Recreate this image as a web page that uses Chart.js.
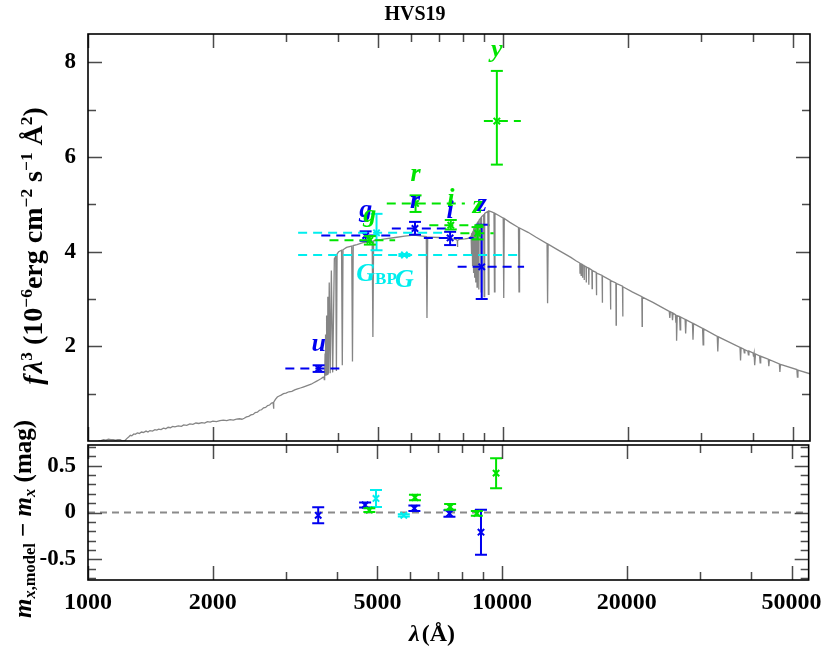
<!DOCTYPE html>
<html>
<head>
<meta charset="utf-8">
<script src="https://cdn.jsdelivr.net/npm/chart.js@4.4.1/dist/chart.umd.min.js"></script>
<style>
html,body{margin:0;padding:0;background:#fff;}
body{width:830px;height:649px;position:relative;overflow:hidden;font-family:"Liberation Serif","Times New Roman",serif;}
canvas{position:absolute;left:0;}
#top{top:0;}
#bot{top:437px;}
.t{position:absolute;font-weight:bold;white-space:nowrap;color:#000;line-height:1;transform:translate(-50%,-50%);}
.rot{transform:translate(-50%,-50%) rotate(-90deg);}
.t sup{font-size:0.62em;vertical-align:0.6em;line-height:0;}
.t sub{font-size:0.66em;vertical-align:-0.3em;line-height:0;}
</style>
</head>
<body>
<canvas id="top" width="830" height="449"></canvas>
<canvas id="bot" width="830" height="212"></canvas>
<div class="t" style="left:415px;top:13px;font-size:20px;">HVS19</div>
<div class="t rot" style="left:33px;top:246px;font-size:28px;"><i>f</i>&#8202;<i>λ</i><sup>3</sup>&nbsp;(10<sup>−6</sup>erg&nbsp;cm<sup>−2</sup>&nbsp;s<sup>−1</sup>&nbsp;Å<sup>2</sup>)</div>
<div class="t rot" style="left:22px;top:519px;font-size:25px;"><i>m</i><sub><i>x</i>,model</sub>&nbsp;−&nbsp;<i>m</i><sub><i>x</i></sub>&nbsp;(mag)</div>
<div class="t" style="left:432px;top:633px;font-size:24px;"><i>λ</i>&#8202;(Å)</div>
<script>
// ---------------- data ----------------
const xMin = 1000, xMax = 55000;
const fluxMin = 0, fluxMax = 8.6;
const residMin = -0.72, residMax = 0.72;
const xTickLabels = [1000, 2000, 5000, 10000, 20000, 50000];
const xMinorTicks = [3000, 4000, 6000, 7000, 8000, 9000, 30000, 40000];
const fluxTickLabels = [2, 4, 6, 8];
const fluxMinorTicks = [1, 3, 5, 7];
const residTickLabels = [-0.5, 0, 0.5];
const residMinorTicks = [-0.7, -0.6, -0.4, -0.3, -0.2, -0.1, 0.1, 0.2, 0.3, 0.4, 0.6, 0.7];

// SDSS (blue)
const sdssBands = ['u', 'g', 'r', 'i', 'z'];
const sdssWave = [3597, 4669, 6140, 7462, 8893];
const sdssFlux = [1.53, 4.34, 4.49, 4.29, 3.68];
const sdssErrLo = [0.07, 0.11, 0.13, 0.15, 0.68];
const sdssErrHi = [0.07, 0.09, 0.14, 0.13, 0.89];
const sdssWaveLo = [2990, 3650, 5400, 6450, 7780];
const sdssWaveHi = [4100, 5420, 7300, 8500, 11250];
const sdssResid = [-0.03, 0.08, 0.045, -0.01, -0.21];
const sdssResidErr = [0.085, 0.027, 0.03, 0.035, 0.24];

// Pan-STARRS (green)
const ps1Bands = ['g', 'r', 'i', 'z', 'y'];
const ps1Wave = [4780, 6160, 7490, 8690, 9672];
const ps1Flux = [4.24, 5.02, 4.56, 4.39, 6.76];
const ps1ErrLo = [0.09, 0.18, 0.09, 0.13, 0.92];
const ps1ErrHi = [0.09, 0.17, 0.11, 0.13, 1.06];
const ps1WaveLo = [3820, 5250, 6650, 7900, 9000];
const ps1WaveHi = [5500, 8100, 9300, 9500, 11050];
const ps1Resid = [0.025, 0.16, 0.06, -0.01, 0.42];
const ps1ResidErr = [0.02, 0.03, 0.03, 0.025, 0.16];

// Gaia (cyan)
const gaiaBands = ['G_BP', 'G'];
const gaiaWave = [4960, 5790];
const gaiaFlux = [4.40, 3.93];
const gaiaErrLo = [0.37, 0.02];
const gaiaErrHi = [0.40, 0.02];
const gaiaWaveLo = [3210, 3210];
const gaiaWaveHi = [7200, 10900];
const gaiaResid = [0.15, -0.03];
const gaiaResidErr = [0.09, 0.012];

// model spectrum (wavelength in Angstrom, f*lambda^3)
const specWave = [1060,1075,1090,1105,1120,1135,1150,1165,1180,1195,1205,1215,1228,1240,1255,1265,1275,1290,1300,1315,1330,1345,1360,1380,1395,1410,1430,1450,1465,1480,1500,1520,1540,1560,1580,1600,1620,1650,1680,1700,1730,1760,1790,1820,1850,1880,1910,1940,1970,2000,2040,2080,2120,2160,2200,2240,2280,2320,2350,2380,2410,2440,2470,2500,2530,2560,2590,2620,2650,2680,2710,2740,2770,2795,2800,2806,2830,2860,2890,2920,2960,3000,3050,3100,3150,3200,3250,3300,3350,3400,3450,3500,3550,3600,3650,3690,3705,3712,3717,3722,3728,3734,3742,3750,3760,3771,3785,3798,3815,3835,3860,3889,3925,3955,3970,3985,4020,4085,4102,4118,4200,4322,4340,4358,4450,4600,4750,4842,4861,4880,4950,5200,5500,5800,6100,6400,6537,6563,6589,6700,7000,7400,7700,7765,7774,7783,7850,8100,8250,8340,8385,8392,8400,8408,8413,8420,8432,8438,8445,8460,8467,8475,8494,8502,8511,8535,8545,8556,8586,8598,8610,8650,8665,8680,8732,8750,8768,8840,8863,8885,8990,9015,9040,9200,9229,9258,9400,9520,9546,9572,9800,10020,10049,10078,10400,10906,10938,10970,11500,12000,12780,12818,12856,13500,14000,14584,15000,15330,15346,15362,15428,15443,15458,15545,15561,15577,15690,15705,15720,15868,15885,15902,16095,16114,16133,16390,16411,16432,16790,16811,16832,17345,17367,17389,18155,18179,18203,18725,18751,18777,19425,19451,19477,20500,21630,21661,21692,23000,24000,25185,25261,25337,25566,25643,25720,26060,26127,26190,26200,26259,26320,26670,26751,26830,27500,27583,27666,28644,28730,28816,30300,30392,30484,32871,32970,33069,37294,37406,37518,38081,38196,38311,38957,39074,39191,40087,40208,40329,40400,40522,40644,41583,41708,41833,43635,43766,43897,46398,46538,46678,51132,51286,51440,55000];
const specFlux = [0.00,0.01,0.03,0.02,0.04,0.03,0.03,0.02,0.03,0.03,0.01,0.00,0.01,0.05,0.09,0.12,0.11,0.15,0.14,0.17,0.16,0.19,0.18,0.21,0.19,0.22,0.21,0.24,0.23,0.25,0.24,0.27,0.26,0.29,0.28,0.31,0.30,0.32,0.31,0.34,0.33,0.36,0.35,0.38,0.37,0.39,0.38,0.41,0.40,0.42,0.41,0.43,0.44,0.43,0.45,0.44,0.46,0.47,0.46,0.48,0.51,0.52,0.55,0.56,0.60,0.61,0.65,0.66,0.70,0.71,0.75,0.76,0.80,0.81,0.68,0.82,0.88,0.93,0.95,0.97,1.00,1.01,1.04,1.05,1.08,1.10,1.12,1.14,1.16,1.18,1.20,1.23,1.26,1.29,1.32,1.35,1.34,1.30,1.55,1.36,1.85,1.38,2.25,1.40,2.65,1.41,3.05,1.42,3.35,1.43,3.60,1.45,3.85,3.90,1.48,3.95,4.00,4.03,1.60,4.04,4.09,4.12,1.68,4.13,4.15,4.19,4.21,4.22,2.20,4.23,4.24,4.27,4.30,4.33,4.35,4.33,4.32,2.60,4.31,4.31,4.30,4.28,4.26,4.24,4.10,4.24,4.26,4.27,4.28,4.31,4.33,4.05,4.35,4.36,3.95,4.38,4.39,3.85,4.40,4.42,3.70,4.44,4.46,3.55,4.48,4.50,3.45,4.52,4.54,3.35,4.56,4.58,3.25,4.61,4.64,3.20,4.67,4.71,3.15,4.74,4.78,3.05,4.81,4.85,3.10,4.86,4.84,4.82,3.15,4.81,4.76,4.71,3.02,4.70,4.62,4.51,3.15,4.50,4.41,4.31,4.17,2.91,4.16,4.05,3.97,3.88,3.81,3.76,3.55,3.76,3.74,3.50,3.74,3.73,3.45,3.72,3.71,3.40,3.70,3.68,3.35,3.68,3.65,3.30,3.65,3.61,3.22,3.60,3.56,3.08,3.55,3.50,2.92,3.49,3.40,2.78,3.39,3.34,2.45,3.33,3.27,2.63,3.26,3.15,3.05,2.42,3.04,2.93,2.84,2.74,2.60,2.73,2.71,2.55,2.70,2.67,2.50,2.66,2.66,2.12,2.65,2.63,2.35,2.62,2.57,2.27,2.56,2.49,2.14,2.48,2.38,2.03,2.37,2.21,1.89,2.20,1.98,1.70,1.97,1.94,1.86,1.93,1.90,1.82,1.90,1.86,1.78,1.85,1.85,1.60,1.84,1.80,1.65,1.79,1.73,1.58,1.72,1.63,1.46,1.62,1.51,1.35,1.50,1.42];

// ---------------- styles ----------------
const styles = {
  sdss: { color: '#0000f0', labelBelow: false },
  ps1:  { color: '#00e400', labelBelow: false },
  gaia: { color: '#00eeee', labelBelow: true }
};
const serif = '"Liberation Serif", "Times New Roman", serif';
const fontTick = { family: serif, weight: 'bold', size: 23 };
const fontTickX = { family: serif, weight: 'bold', size: 24 };
const labelFont = 'italic bold 26px ' + serif;
const subFont = 'bold 17px ' + serif;

const photGroups = [
  { bands: sdssBands, wave: sdssWave, flux: sdssFlux, errLo: sdssErrLo, errHi: sdssErrHi, lo: sdssWaveLo, hi: sdssWaveHi, resid: sdssResid, residErr: sdssResidErr, style: styles.sdss },
  { bands: ps1Bands, wave: ps1Wave, flux: ps1Flux, errLo: ps1ErrLo, errHi: ps1ErrHi, lo: ps1WaveLo, hi: ps1WaveHi, resid: ps1Resid, residErr: ps1ResidErr, style: styles.ps1 },
  { bands: gaiaBands, wave: gaiaWave, flux: gaiaFlux, errLo: gaiaErrLo, errHi: gaiaErrHi, lo: gaiaWaveLo, hi: gaiaWaveHi, resid: gaiaResid, residErr: gaiaResidErr, style: styles.gaia }
];

function photDatasets(g, vals, eLo, eHi, withBars) {
  const ds = [];
  g.wave.forEach((w, i) => {
    if (withBars) {
      ds.push({ data: [{ x: g.lo[i], y: vals[i] }, { x: g.hi[i], y: vals[i] }], showLine: true,
        borderColor: g.style.color, borderWidth: 2, borderDash: [9, 6], pointRadius: 0, order: 0 });
    }
    ds.push({ data: [{ x: w, y: vals[i] - eLo[i] }, { x: w, y: vals[i] + eHi[i] }], showLine: true,
      borderColor: g.style.color, borderWidth: 2, pointStyle: 'line', pointRadius: 6,
      pointBorderWidth: 2, pointBorderColor: g.style.color, pointBackgroundColor: g.style.color, order: 0 });
  });
  ds.push({ data: g.wave.map((w, i) => ({ x: w, y: vals[i] })), showLine: false, pointStyle: 'crossRot',
    pointRadius: 4.5, pointBorderWidth: 2, pointBorderColor: g.style.color, borderColor: g.style.color, order: 0 });
  return ds;
}

// draw order: first dataset on top
const drawOrder = [photGroups[1], photGroups[2], photGroups[0]];
const topDatasets = [];
const botDatasets = [];
drawOrder.forEach(g => {
  topDatasets.push(...photDatasets(g, g.flux, g.errLo, g.errHi, true));
  botDatasets.push(...photDatasets(g, g.resid, g.residErr, g.residErr, false));
});
topDatasets.push({ data: specWave.map((w, i) => ({ x: w, y: specFlux[i] })), showLine: true,
  borderColor: '#858585', borderWidth: 1.3, pointRadius: 0, order: 1 });
botDatasets.push({ data: [{ x: xMin, y: 0 }, { x: xMax, y: 0 }], showLine: true,
  borderColor: '#8a8a8a', borderWidth: 2, borderDash: [7, 5], pointRadius: 0, order: 1 });

// ---------------- plugins ----------------
const frame = {
  id: 'frame',
  afterDatasetsDraw(chart, args, o) {
    const { ctx, chartArea: a } = chart;
    const xs = chart.scales.x, ys = chart.scales.y;
    ctx.save();
    ctx.strokeStyle = '#4a4a4a';
    ctx.lineWidth = 1.5;
    ctx.beginPath();
    const xt = (vals, len) => vals.forEach(v => {
      const p = Math.round(xs.getPixelForValue(v)) + 0.5;
      ctx.moveTo(p, a.top); ctx.lineTo(p, a.top + len);
      ctx.moveTo(p, a.bottom); ctx.lineTo(p, a.bottom - len);
    });
    const yt = (vals, len) => vals.forEach(v => {
      const p = Math.round(ys.getPixelForValue(v)) + 0.5;
      ctx.moveTo(a.left, p); ctx.lineTo(a.left + len, p);
      ctx.moveTo(a.right, p); ctx.lineTo(a.right - len, p);
    });
    xt(xTickLabels, 14); xt(xMinorTicks, 8);
    yt(o.yMajor, 14); yt(o.yMinor, 8);
    ctx.stroke();
    ctx.strokeStyle = '#000';
    ctx.lineWidth = 1.6;
    ctx.strokeRect(a.left, a.top, a.right - a.left, a.bottom - a.top);
    ctx.restore();
  }
};

const bandLabels = {
  id: 'bandLabels',
  afterDatasetsDraw(chart) {
    const { ctx } = chart;
    const xs = chart.scales.x, ys = chart.scales.y;
    ctx.save();
    ctx.textAlign = 'left';
    ctx.textBaseline = 'alphabetic';
    photGroups.forEach(g => {
      g.bands.forEach((b, i) => {
        const parts = b.split('_');
        const main = parts[0], sub = parts[1] || '';
        const px = xs.getPixelForValue(g.wave[i]);
        const py = g.style.labelBelow
          ? ys.getPixelForValue(g.flux[i] - g.errLo[i]) + 31
          : ys.getPixelForValue(g.flux[i] + g.errHi[i]) - 14;
        ctx.font = labelFont;
        const w1 = ctx.measureText(main).width;
        let w2 = 0;
        if (sub) { ctx.font = subFont; w2 = ctx.measureText(sub).width; }
        const left = px - (w1 + w2) / 2;
        ctx.fillStyle = g.style.color;
        ctx.font = labelFont;
        ctx.fillText(main, left, py);
        if (sub) { ctx.font = subFont; ctx.fillText(sub, left + w1, py + 3); }
      });
    });
    ctx.restore();
  }
};

// ---------------- charts ----------------
const common = { responsive: false, animation: false, events: [] };
const fitY = s => { s.width = 88; s.paddingTop = 0; s.paddingBottom = 0; };

new Chart(document.getElementById('top'), {
  type: 'scatter',
  data: { datasets: topDatasets },
  options: Object.assign({}, common, {
    layout: { padding: { left: 0, right: 20, top: 34, bottom: 6 } },
    plugins: { legend: { display: false }, tooltip: { enabled: false },
      frame: { yMajor: fluxTickLabels, yMinor: fluxMinorTicks } },
    scales: {
      x: { type: 'logarithmic', min: xMin, max: xMax, display: false },
      y: { type: 'linear', min: fluxMin, max: fluxMax,
        grid: { display: false, drawTicks: false }, border: { display: false },
        afterBuildTicks: s => { s.ticks = fluxTickLabels.map(v => ({ value: v })); },
        afterFit: fitY,
        ticks: { font: fontTick, color: '#000', padding: 12, callback: v => String(v) } }
    }
  }),
  plugins: [frame, bandLabels]
});

new Chart(document.getElementById('bot'), {
  type: 'scatter',
  data: { datasets: botDatasets },
  options: Object.assign({}, common, {
    layout: { padding: { left: 0, right: 20, top: 6, bottom: 0 } },
    plugins: { legend: { display: false }, tooltip: { enabled: false },
      frame: { yMajor: residTickLabels, yMinor: residMinorTicks } },
    scales: {
      x: { type: 'logarithmic', min: xMin, max: xMax,
        grid: { display: false, drawTicks: false }, border: { display: false },
        afterBuildTicks: s => { s.ticks = xTickLabels.map(v => ({ value: v })); },
        afterFit: s => { s.height = 69; },
        ticks: { font: fontTickX, color: '#000', padding: 8, maxRotation: 0, autoSkip: false, callback: v => String(v) } },
      y: { type: 'linear', min: residMin, max: residMax,
        grid: { display: false, drawTicks: false }, border: { display: false },
        afterBuildTicks: s => { s.ticks = residTickLabels.map(v => ({ value: v })); },
        afterFit: fitY,
        ticks: { font: fontTick, color: '#000', padding: 12, callback: v => String(v) } }
    }
  }),
  plugins: [frame]
});
</script>
</body>
</html>
